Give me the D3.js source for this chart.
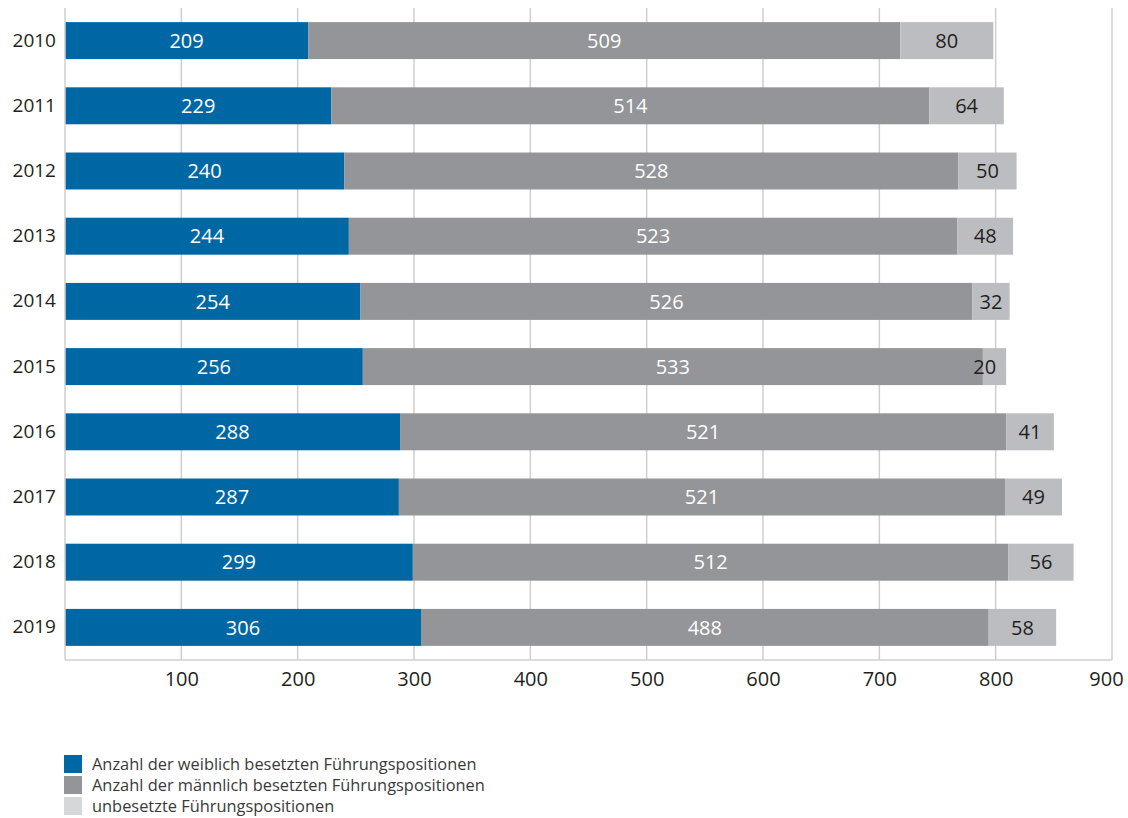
<!DOCTYPE html>
<html>
<head>
<meta charset="utf-8">
<script src="https://cdn.jsdelivr.net/npm/d3@7"></script>
<style>
  body { margin: 0; background: #fff; }
  svg { display: block; font-family: "Open Sans", sans-serif; }
</style>
</head>
<body>
<svg id="chart" width="1128" height="818"></svg>
<script>
// Führungspositionen je Jahr
const years = ["2010","2011","2012","2013","2014","2015","2016","2017","2018","2019"];
const weiblich = [209, 229, 240, 244, 254, 256, 288, 287, 299, 306];
const maennlich = [509, 514, 528, 523, 526, 533, 521, 521, 512, 488];
const unbesetzt = [80, 64, 50, 48, 32, 20, 41, 49, 56, 58];
const xTicks = [100, 200, 300, 400, 500, 600, 700, 800, 900];
const seriesNames = [
  "Anzahl der weiblich besetzten Führungspositionen",
  "Anzahl der männlich besetzten Führungspositionen",
  "unbesetzte Führungspositionen"
];

const barColors = ["#0067a5", "#939598", "#bcbdc0"];
const legendColors = ["#0067a5", "#939598", "#d6d7d9"];
const labelColors = ["#ffffff", "#ffffff", "#231f20"];

const svg = d3.select("#chart");

const x = d3.scaleLinear().domain([0, 900]).range([65, 1112]);
const y = d3.scaleBand().domain(years).range([8, 660]).paddingInner(0.433).paddingOuter(0.2165);

// Gitterlinien
svg.append("g")
  .selectAll("line")
  .data(xTicks)
  .join("line")
  .attr("x1", d => x(d)).attr("x2", d => x(d))
  .attr("y1", 8).attr("y2", 660)
  .attr("stroke", "#cfcfd0").attr("stroke-width", 1.5);

// Gestapelte Daten
const rows = years.map((yr, i) => ({ year: yr, w: weiblich[i], m: maennlich[i], u: unbesetzt[i] }));
const stack = d3.stack().keys(["w", "m", "u"]);
const layers = stack(rows);

const layerG = svg.append("g")
  .selectAll("g")
  .data(layers)
  .join("g")
  .attr("fill", (d, i) => barColors[i]);

layerG.selectAll("rect")
  .data(d => d)
  .join("rect")
  .attr("x", d => x(d[0]))
  .attr("width", d => x(d[1]) - x(d[0]))
  .attr("y", d => y(d.data.year))
  .attr("height", y.bandwidth());

// Werte in den Segmenten
layers.forEach((layer, li) => {
  svg.append("g")
    .selectAll("text")
    .data(layer)
    .join("text")
    .attr("x", d => {
      const w = x(d[1]) - x(d[0]);
      return w < 30 ? x(d[1]) - 10 : (x(d[0]) + x(d[1])) / 2;
    })
    .attr("text-anchor", d => (x(d[1]) - x(d[0]) < 30 ? "end" : "middle"))
    .attr("y", d => y(d.data.year) + y.bandwidth() / 2)
    .attr("dy", "0.36em")
    .attr("font-size", 20)
    .attr("fill", labelColors[li])
    .text(d => d[1] - d[0]);
});

// Achsenlinien
svg.append("line")
  .attr("x1", 65).attr("x2", 65).attr("y1", 8).attr("y2", 660)
  .attr("stroke", "#cfcfd0").attr("stroke-width", 1.5);
svg.append("line")
  .attr("x1", 65).attr("x2", x(900)).attr("y1", 660).attr("y2", 660)
  .attr("stroke", "#cfcfd0").attr("stroke-width", 1.5);

// x-Achse
const xAxis = svg.append("g")
  .attr("transform", "translate(0,660)")
  .call(d3.axisBottom(x).tickValues(xTicks).tickSize(0).tickPadding(12));
xAxis.select(".domain").remove();
xAxis.selectAll("text")
  .attr("font-size", 20)
  .attr("font-family", "Open Sans, sans-serif")
  .attr("fill", "#231f20")
  .attr("dx", d => (d === 900 ? -6 : 0));

// y-Achse
const yAxis = svg.append("g")
  .attr("transform", "translate(56,0)")
  .call(d3.axisLeft(y).tickSize(0).tickPadding(0));
yAxis.select(".domain").remove();
yAxis.selectAll("text")
  .attr("font-size", 19)
  .attr("font-family", "Open Sans, sans-serif")
  .attr("fill", "#231f20");

// Legende
const legend = svg.append("g").attr("transform", "translate(64,755)");
const item = legend.selectAll("g")
  .data(seriesNames)
  .join("g")
  .attr("transform", (d, i) => `translate(0,${i * 21})`);
item.append("rect")
  .attr("width", 18).attr("height", 18)
  .attr("fill", (d, i) => legendColors[i]);
item.append("text")
  .attr("x", 28).attr("y", 9)
  .attr("dy", "0.36em")
  .attr("font-size", 16.4)
  .attr("fill", "#3a3a3a")
  .text(d => d);
</script>
</body>
</html>
